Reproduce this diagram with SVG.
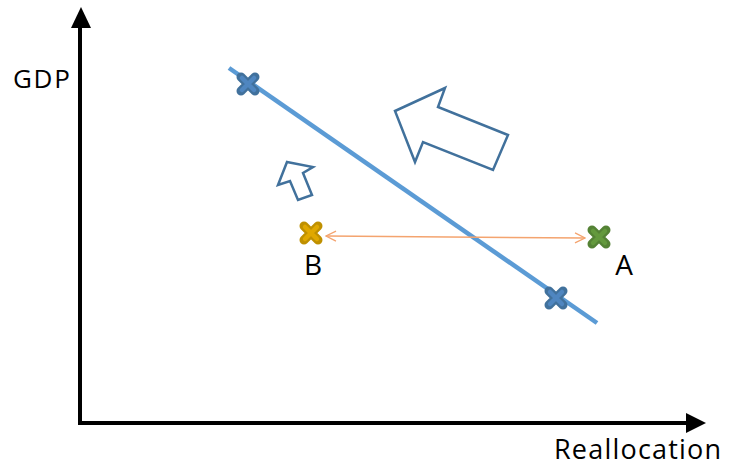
<svg xmlns="http://www.w3.org/2000/svg" width="732" height="468" viewBox="0 0 732 468">
<defs>
<style>
.lbl{font-family:"Open Sans","Liberation Sans",sans-serif;font-size:28px;fill:#000}
.axis{stroke:#000;stroke-width:4;fill:none}
.blk{stroke:#41719C;stroke-width:2.5;fill:#fff;stroke-linejoin:miter}
.xo{stroke-width:9;stroke-linecap:round;fill:none}
.xi{stroke-width:4.5;stroke-linecap:round;fill:none}
</style>
<marker id="oa" viewBox="0 0 12 12" refX="11" refY="6" markerWidth="12" markerHeight="12" markerUnits="userSpaceOnUse" orient="auto-start-reverse">
<path d="M1,1 L11,6 L1,11" fill="none" stroke="#F4A46F" stroke-width="1.3"/>
</marker>
</defs>
<rect width="732" height="468" fill="#fff"/>
<g id="axes">
<path class="axis" d="M80,424 V24"/>
<path d="M71,28 L81,7 L91,28 Z" fill="#000"/>
<path class="axis" d="M78,423 H688"/>
<path d="M686,413 L706,423 L686,433 Z" fill="#000"/>
</g>
<g id="connectors">
<line x1="229" y1="68" x2="597" y2="323" stroke="#5B9BD5" stroke-width="4.5"/>
<line x1="326" y1="236" x2="585" y2="238" stroke="#F4A46F" stroke-width="1.5" marker-start="url(#oa)" marker-end="url(#oa)"/>
</g>
<g id="bigArrow">
<polygon class="blk" points="395,111 445,88 438,107 508,135 493,170 423,142 415,162"/>
</g>
<g id="smallArrow">
<polygon class="blk" points="287,162 313,167 303,173 312,195 298,200 290,181 278,185"/>
</g>
<g id="xTop">
<path class="xo" stroke="#41719C" d="M241,77 L255,91 M255,77 L241,91"/>
<path class="xi" stroke="#4F86C0" d="M242,78 L254,90 M254,78 L242,90"/>
</g>
<g id="xBottom">
<path class="xo" stroke="#41719C" d="M549,291 L563,305 M563,291 L549,305"/>
<path class="xi" stroke="#4F86C0" d="M550,292 L562,304 M562,292 L550,304"/>
</g>
<g id="xB">
<path class="xo" stroke="#BF9000" d="M304,226 L318,240 M318,226 L304,240"/>
<path class="xi" stroke="#E0A800" d="M305,227 L317,239 M317,227 L305,239"/>
</g>
<g id="xA">
<path class="xo" stroke="#548235" d="M592,230 L606,244 M606,230 L592,244"/>
<path class="xi" stroke="#63993D" d="M593,231 L605,243 M605,231 L593,243"/>
</g>
<g id="labels">
<text class="lbl" x="313" y="275" text-anchor="middle">B</text>
<text class="lbl" x="624" y="275" text-anchor="middle">A</text>
<text class="lbl" x="13" y="88" style="font-size:26px;letter-spacing:1.7px">GDP</text>
<text class="lbl" x="554" y="459" style="font-size:27px;letter-spacing:1.2px">Reallocation</text>
</g>
</svg>
